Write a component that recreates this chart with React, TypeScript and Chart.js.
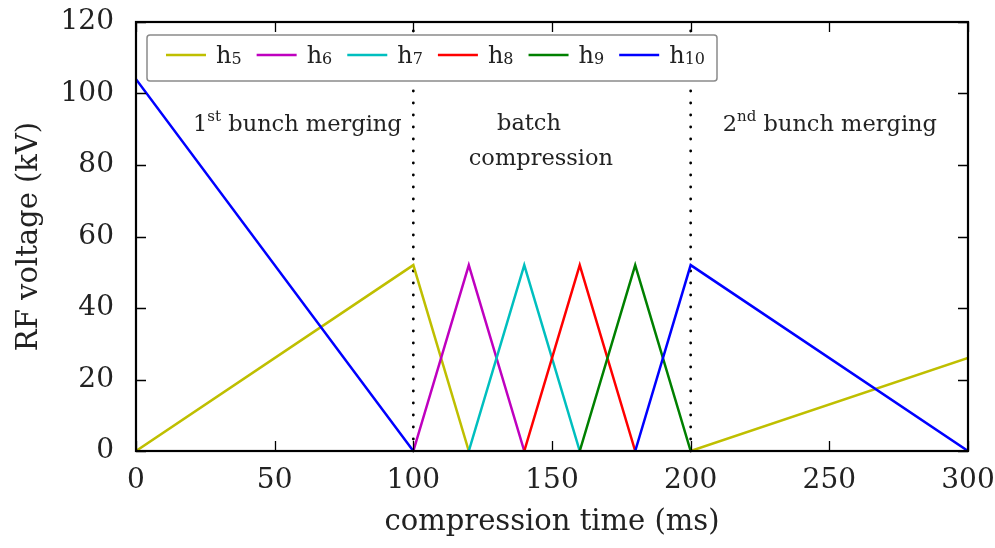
import React, { useEffect, useRef } from "react";
import { Chart, registerables } from "chart.js";
Chart.register(...registerables);

// ---- data ----
const seriesNames = ["h5", "h6", "h7", "h8", "h9", "h10"];
const seriesColors = ["#bfbf00", "#bf00bf", "#00bfbf", "#ff0000", "#008000", "#0000ff"];

const h5Time = [0, 100, 120, 150, 200, 300];
const h5Volt = [0, 52, 0, null, 0, 26];
const h6Time = [100, 120, 140];
const h6Volt = [0, 52, 0];
const h7Time = [120, 140, 160];
const h7Volt = [0, 52, 0];
const h8Time = [140, 160, 180];
const h8Volt = [0, 52, 0];
const h9Time = [160, 180, 200];
const h9Volt = [0, 52, 0];
const h10Time = [0, 100, 140, 180, 200, 300];
const h10Volt = [104, 0, null, 0, 52, 0];

const xTickValues = [0, 50, 100, 150, 200, 250, 300];
const yTickValues = [0, 20, 40, 60, 80, 100, 120];
const phaseBoundaries = [100, 200];

const xTitle = "compression time (ms)";
const yTitle = "RF voltage (kV)";

type Part = { t: string; sup?: boolean };
const phaseLabels: { parts: Part[]; x: number; y: number }[] = [
  { parts: [{ t: "1" }, { t: "st", sup: true }, { t: " bunch merging" }], x: 58.2, y: 89.5 },
  { parts: [{ t: "batch" }], x: 141.7, y: 89.7 },
  { parts: [{ t: "compression" }], x: 146, y: 80 },
  { parts: [{ t: "2" }, { t: "nd", sup: true }, { t: " bunch merging" }], x: 250.2, y: 89.5 },
];

const FONT = "'DejaVu Serif', 'Liberation Serif', serif";

const seriesTimes = [h5Time, h6Time, h7Time, h8Time, h9Time, h10Time];
const seriesVolts = [h5Volt, h6Volt, h7Volt, h8Volt, h9Volt, h10Volt];

const framePlugin = {
  id: "frame",
  beforeDatasetsDraw(chart: any) {
    const { ctx, scales } = chart;
    ctx.save();
    ctx.strokeStyle = "#000";
    ctx.lineWidth = 2.8;
    ctx.lineCap = "round";
    ctx.setLineDash([0, 12]);
    for (const v of phaseBoundaries) {
      const px = scales.x.getPixelForValue(v);
      ctx.beginPath();
      ctx.moveTo(px, scales.y.getPixelForValue(0));
      ctx.lineTo(px, scales.y.getPixelForValue(120));
      ctx.stroke();
    }
    ctx.restore();
  },
  afterDatasetsDraw(chart: any) {
    const { ctx, chartArea: a, scales } = chart;
    ctx.save();
    // ticks inward on all sides
    ctx.strokeStyle = "#000";
    ctx.lineWidth = 1.3;
    const len = 10;
    for (const v of xTickValues) {
      const px = Math.round(scales.x.getPixelForValue(v)) + 0.5;
      ctx.beginPath();
      ctx.moveTo(px, a.bottom);
      ctx.lineTo(px, a.bottom - len);
      ctx.moveTo(px, a.top);
      ctx.lineTo(px, a.top + len);
      ctx.stroke();
    }
    for (const v of yTickValues) {
      const py = Math.round(scales.y.getPixelForValue(v)) + 0.5;
      ctx.beginPath();
      ctx.moveTo(a.left, py);
      ctx.lineTo(a.left + len, py);
      ctx.moveTo(a.right, py);
      ctx.lineTo(a.right - len, py);
      ctx.stroke();
    }
    // frame
    ctx.lineWidth = 2.2;
    ctx.strokeRect(a.left, a.top, a.right - a.left, a.bottom - a.top);

    // phase labels
    ctx.fillStyle = "#222";
    ctx.textBaseline = "alphabetic";
    ctx.textAlign = "left";
    const main = 22.5, sup = 15;
    for (const lab of phaseLabels) {
      let w = 0;
      for (const p of lab.parts) {
        ctx.font = `${p.sup ? sup : main}px ${FONT}`;
        w += ctx.measureText(p.t).width;
      }
      let x = scales.x.getPixelForValue(lab.x) - w / 2;
      const y = scales.y.getPixelForValue(lab.y);
      for (const p of lab.parts) {
        ctx.font = `${p.sup ? sup : main}px ${FONT}`;
        ctx.fillText(p.t, x, p.sup ? y - 10 : y);
        x += ctx.measureText(p.t).width;
      }
    }

    // legend
    const bx = a.left + 11, by = a.top + 13, bw = 570, bh = 46;
    ctx.fillStyle = "#fff";
    ctx.strokeStyle = "#8a8a8a";
    ctx.lineWidth = 1.5;
    ctx.beginPath();
    if ((ctx as any).roundRect) (ctx as any).roundRect(bx, by, bw, bh, 3);
    else ctx.rect(bx, by, bw, bh);
    ctx.fill();
    ctx.stroke();
    const ly = by + 20;
    let x = bx + 19;
    for (let i = 0; i < seriesNames.length; i++) {
      ctx.strokeStyle = seriesColors[i];
      ctx.lineWidth = 2.5;
      ctx.beginPath();
      ctx.moveTo(x, ly);
      ctx.lineTo(x + 40, ly);
      ctx.stroke();
      let tx = x + 50;
      const name = seriesNames[i];
      ctx.fillStyle = "#222";
      ctx.font = `24px ${FONT}`;
      ctx.fillText(name[0], tx, by + 28);
      tx += ctx.measureText(name[0]).width;
      ctx.font = `16px ${FONT}`;
      ctx.fillText(name.slice(1), tx, by + 29);
      tx += ctx.measureText(name.slice(1)).width;
      x = tx + 15;
    }
    ctx.restore();
  },
};

export default function App() {
  const ref = useRef<HTMLCanvasElement | null>(null);
  useEffect(() => {
    if (!ref.current) return;
    const datasets = seriesNames.map((name, i) => ({
      label: name,
      data: seriesTimes[i].map((t, j) => ({ x: t, y: seriesVolts[i][j] })),
      borderColor: seriesColors[i],
      backgroundColor: seriesColors[i],
      borderWidth: 2.5,
      pointRadius: 0,
      tension: 0,
      spanGaps: false,
      order: seriesNames.length - i,
    }));
    const chart = new Chart(ref.current, {
      type: "line",
      data: { datasets },
      plugins: [framePlugin],
      options: {
        animation: false,
        responsive: false,
        layout: { padding: { top: 22, right: 27, left: 0, bottom: 0 } },
        plugins: { legend: { display: false }, tooltip: { enabled: false } },
        scales: {
          x: {
            type: "linear",
            min: 0,
            max: 300,
            grid: { display: false },
            border: { display: false },
            ticks: {
              stepSize: 50,
              padding: 5,
              color: "#222",
              font: { family: FONT, size: 28 },
              maxRotation: 0,
            },
            title: {
              display: true,
              text: xTitle,
              color: "#222",
              font: { family: FONT, size: 29 },
              padding: { top: 0, bottom: 8 },
            },
            afterFit: (s: any) => {
              s.height = 97;
              s.paddingLeft = 0;
              s.paddingRight = 0;
            },
          },
          y: {
            type: "linear",
            min: 0,
            max: 120,
            grid: { display: false },
            border: { display: false },
            ticks: {
              stepSize: 20,
              padding: 14,
              color: "#222",
              font: { family: FONT, size: 28 },
            },
            title: {
              display: true,
              text: yTitle,
              color: "#222",
              font: { family: FONT, size: 29 },
              padding: { top: 12, bottom: 0 },
            },
            afterFit: (s: any) => {
              s.width = 136;
              s.paddingTop = 0;
              s.paddingBottom = 0;
            },
          },
        },
      } as any,
    });
    return () => chart.destroy();
  }, []);
  return (
    <div style={{ position: "absolute", left: 0, top: 0, width: 995, height: 548, background: "#fff" }}>
      <canvas ref={ref} width={995} height={548} style={{ width: 995, height: 548 }} />
    </div>
  );
}
